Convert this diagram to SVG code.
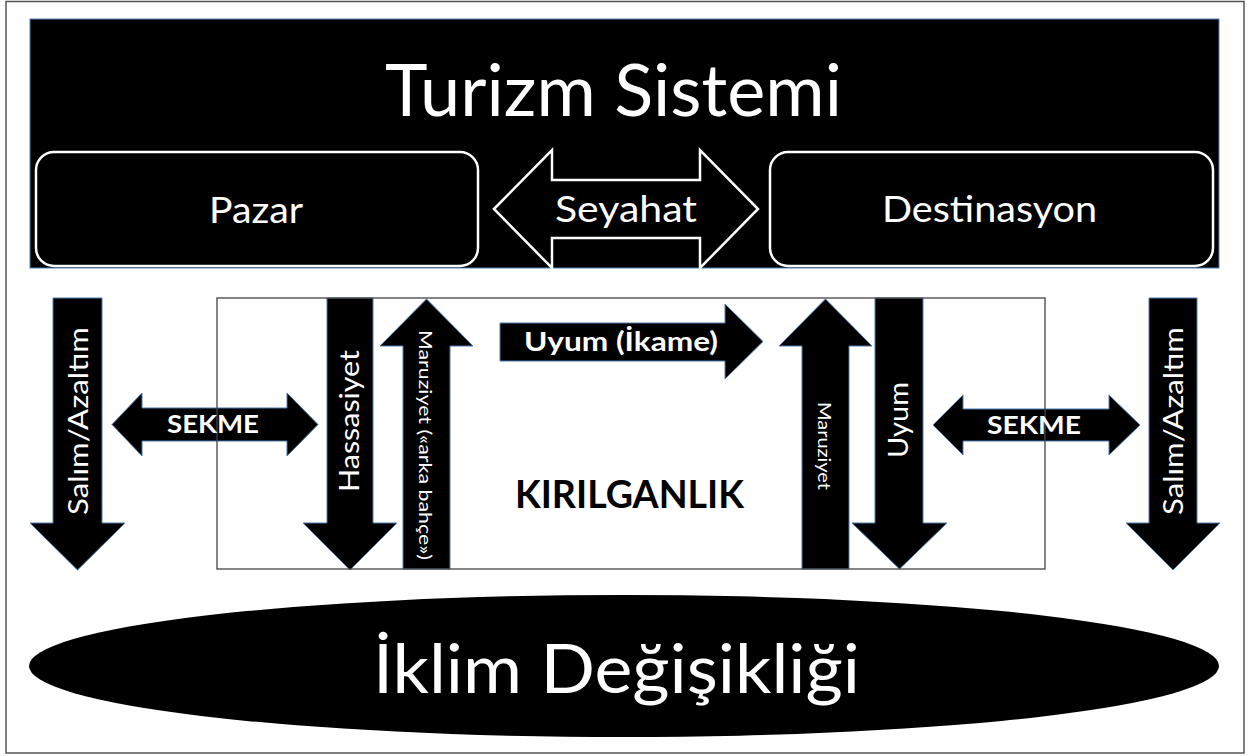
<svg xmlns="http://www.w3.org/2000/svg" width="1251" height="756" viewBox="0 0 1251 756">
  <style>
    text { font-family: Lato, "Open Sans", "DejaVu Sans", sans-serif; }
    .w { fill: #ffffff; }
    .b { fill: #000000; }
    .bold { font-weight: bold; }
    .arrow { fill: #000000; stroke: #4a7ab0; stroke-width: 1; stroke-linejoin: miter; }
    .box { fill: #000000; stroke: #ffffff; stroke-width: 2.5; }
  </style>
  <rect x="0" y="0" width="1251" height="756" fill="#ffffff"/>
  <rect id="frame" x="6" y="1.5" width="1238" height="751.5" fill="none" stroke="#555555" stroke-width="1.5"/>

  <g id="turizm-sistemi">
    <rect x="30" y="19" width="1189" height="249" fill="#000000" stroke="#4f81bd" stroke-width="1"/>
    <text class="w" x="613.5" y="116" font-size="71" text-anchor="middle" textLength="457" lengthAdjust="spacingAndGlyphs">Turizm Sistemi</text>
  </g>

  <g id="pazar">
    <rect class="box" x="36" y="152" width="442" height="114" rx="18"/>
    <text class="w" x="256" y="223" font-size="36" text-anchor="middle" textLength="94" lengthAdjust="spacingAndGlyphs">Pazar</text>
  </g>

  <g id="destinasyon">
    <rect class="box" x="770" y="152" width="443" height="114" rx="18"/>
    <text class="w" x="989.5" y="222" font-size="36" text-anchor="middle" textLength="215" lengthAdjust="spacingAndGlyphs">Destinasyon</text>
  </g>

  <g id="kirilganlik">
    <text class="b bold" x="629.5" y="508" font-size="39" text-anchor="middle" textLength="229" lengthAdjust="spacingAndGlyphs">KIRILGANLIK</text>
  </g>

  <g id="iklim-degisikligi">
    <ellipse cx="624" cy="666" rx="595" ry="71" fill="#000000"/>
    <text class="w" x="616.5" y="693" font-size="67" text-anchor="middle" textLength="487" lengthAdjust="spacingAndGlyphs">İklim Değişikliği</text>
  </g>

  <g id="connectors">
    <g id="seyahat">
      <path class="box" d="M494,209 L552,150 L552,180 L700,180 L700,150 L758,209 L700,268 L700,238 L552,238 L552,268 Z"/>
      <text class="w" x="626" y="222" font-size="37" text-anchor="middle" textLength="142" lengthAdjust="spacingAndGlyphs">Seyahat</text>
    </g>

    <g id="salim-left">
      <path class="arrow" d="M53,298 L102,298 L102,523 L125,523 L77.5,570 L30,523 L53,523 Z"/>
      <text class="w" transform="translate(78,421) rotate(-90)" x="0" y="9.5" font-size="26" text-anchor="middle" textLength="188" lengthAdjust="spacingAndGlyphs">Salım/Azaltım</text>
    </g>

    <g id="sekme-left">
      <path class="arrow" d="M112,424.5 L142,393 L142,408 L287,408 L287,393 L318,424.5 L287,456 L287,441 L142,441 L142,456 Z"/>
    </g>

    <g id="sekme-right">
      <path class="arrow" d="M933,425 L963,395 L963,409 L1109,409 L1109,395 L1140,425 L1109,455 L1109,441 L963,441 L963,455 Z"/>
    </g>

    <g id="hassasiyet">
      <path class="arrow" d="M327,298 L373,298 L373,523 L397,523 L350,570 L303,523 L327,523 Z"/>
      <text class="w" transform="translate(349,421) rotate(-90)" x="0" y="9.5" font-size="26" text-anchor="middle" textLength="142" lengthAdjust="spacingAndGlyphs">Hassasiyet</text>
    </g>

    <g id="maruziyet-left">
      <path class="arrow" d="M426.5,299 L473,346 L450,346 L450,569 L403,569 L403,346 L380,346 Z"/>
      <text class="w" transform="translate(425,445) rotate(90)" x="0" y="6.5" font-size="18" text-anchor="middle" textLength="230" lengthAdjust="spacingAndGlyphs">Maruziyet («arka bahçe»)</text>
    </g>

    <g id="uyum-ikame">
      <path class="arrow" d="M500,323 L725,323 L725,304 L763,341.5 L725,379 L725,361 L500,361 Z"/>
      <text class="w bold" x="621" y="351" font-size="26" text-anchor="middle" textLength="194" lengthAdjust="spacingAndGlyphs">Uyum (İkame)</text>
    </g>

    <g id="maruziyet-right">
      <path class="arrow" d="M825.5,299 L872,346 L849,346 L849,569 L802,569 L802,346 L779,346 Z"/>
      <text class="w" transform="translate(824,446) rotate(90)" x="0" y="6.5" font-size="18" text-anchor="middle" textLength="88" lengthAdjust="spacingAndGlyphs">Maruziyet</text>
    </g>

    <g id="uyum">
      <path class="arrow" d="M875,298 L923,298 L923,523 L947,523 L899.5,569 L852,523 L875,523 Z"/>
      <text class="w" transform="translate(898,420) rotate(-90)" x="0" y="9.5" font-size="26" text-anchor="middle" textLength="76" lengthAdjust="spacingAndGlyphs">Uyum</text>
    </g>

    <g id="salim-right">
      <path class="arrow" d="M1149,298 L1197,298 L1197,523 L1220,523 L1173,570 L1126,523 L1149,523 Z"/>
      <text class="w" transform="translate(1173,421) rotate(-90)" x="0" y="9.5" font-size="26" text-anchor="middle" textLength="188" lengthAdjust="spacingAndGlyphs">Salım/Azaltım</text>
    </g>
  </g>

  <g id="kirilganlik-frame">
    <rect x="217" y="298" width="828" height="271" fill="none" stroke="#444444" stroke-width="1.3"/>
  </g>

  <g id="sekme-labels">
    <text class="w bold" x="213" y="433" font-size="25" text-anchor="middle" textLength="92" lengthAdjust="spacingAndGlyphs">SEKME</text>
    <text class="w bold" x="1034" y="434" font-size="25" text-anchor="middle" textLength="94" lengthAdjust="spacingAndGlyphs">SEKME</text>
  </g>
</svg>
